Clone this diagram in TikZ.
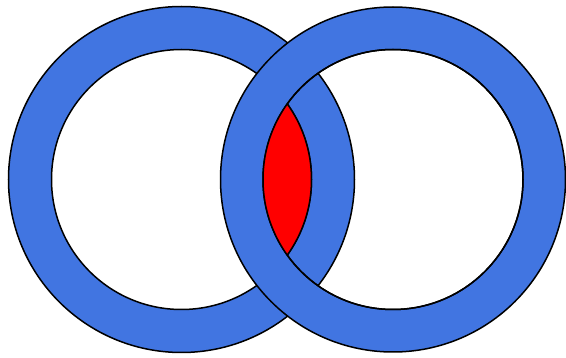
\documentclass[tikz,border=0pt]{standalone}
\definecolor{ringblue}{RGB}{65,117,225}
\begin{document}
\begin{tikzpicture}[x=1pt,y=-1pt,
  ring/.style={fill=ringblue,draw=black,line width=1.5pt,even odd rule},
  edge/.style={draw=black,line width=1.5pt}]
\useasboundingbox (0,0) rectangle (566,358);
\coordinate (cl) at (181.5,179.5);
\coordinate (cr) at (393,179.5);
\path[ring] (cl) circle[radius=173] (cl) circle[radius=130];
\path[ring] (cr) circle[radius=172.5] (cr) circle[radius=130];
\begin{scope}
  \clip (cl) circle[radius=130];
  \fill[red] (cr) circle[radius=130];
\end{scope}
\path[edge] (cr) circle[radius=130];
\begin{scope}
  \clip (cr) circle[radius=130];
  \path[edge] (cl) circle[radius=130];
\end{scope}
\end{tikzpicture}
\end{document}
